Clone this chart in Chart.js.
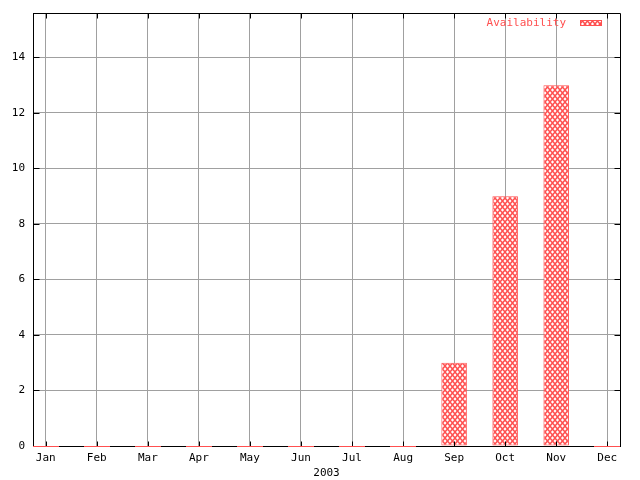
<!DOCTYPE html>
<html>
<head>
<meta charset="utf-8">
<script src="https://cdn.jsdelivr.net/npm/chart.js@4.4.1/dist/chart.umd.min.js"></script>
<style>
  html, body { margin: 0; padding: 0; background: #fff; }
  #wrap { width: 640px; height: 480px; }
</style>
</head>
<body>
<div id="wrap"><canvas id="chart" width="640" height="480"></canvas></div>
<script>
// chart data
const months = ['Jan', 'Feb', 'Mar', 'Apr', 'May', 'Jun', 'Jul', 'Aug', 'Sep', 'Oct', 'Nov', 'Dec'];
const availability = [0, 0, 0, 0, 0, 0, 0, 0, 3, 9, 13, 0];
const yTicks = [0, 2, 4, 6, 8, 10, 12, 14];
const seriesName = 'Availability';
const xTitle = '2003';

const RED = '#ff5050';
const GRID = '#a0a0a0';
const FONT = '"DejaVu Sans Mono", monospace';

// crosshatch fill like the gnuplot pattern
function makeHatch() {
  const c = document.createElement('canvas');
  c.width = 5;
  c.height = 6;
  const g = c.getContext('2d');
  g.fillStyle = '#fff';
  g.fillRect(0, 0, 5, 6);
  g.strokeStyle = RED;
  g.lineWidth = 1.5;
  g.beginPath();
  g.moveTo(0, 0); g.lineTo(5, 6);
  g.moveTo(5, 0); g.lineTo(0, 6);
  g.stroke();
  return g.createPattern(c, 'repeat');
}
const hatch = makeHatch();

// frame, inward ticks, zero bars and the key
const framePlugin = {
  id: 'frame',
  afterDatasetsDraw(chart) {
    const ctx = chart.ctx;
    const a = chart.chartArea;
    const xs = chart.scales.x;
    const ys = chart.scales.y;
    ctx.save();

    ctx.strokeStyle = '#000';
    ctx.lineWidth = 1;
    const L = Math.round(a.left) + 0.5, R = Math.round(a.right) + 0.5;
    const T = Math.round(a.top) + 0.5, B = Math.round(a.bottom) + 0.5;

    // key area is kept clear of grid lines
    ctx.fillStyle = '#fff';
    ctx.fillRect(a.right - 40, a.top + 1, 22, 15);

    ctx.beginPath();
    ctx.moveTo(L, T); ctx.lineTo(R, T); ctx.lineTo(R, B);
    ctx.stroke();

    ctx.beginPath();
    yTicks.forEach(v => {
      const py = Math.round(ys.getPixelForValue(v)) + 0.5;
      ctx.moveTo(L, py); ctx.lineTo(L + 6, py);
      ctx.moveTo(R, py); ctx.lineTo(R - 6, py);
    });
    months.forEach((m, i) => {
      const px = Math.round(xs.getPixelForValue(i)) + 0.5;
      ctx.moveTo(px, B); ctx.lineTo(px, B - 5);
      ctx.moveTo(px, T); ctx.lineTo(px, T + 5);
    });
    ctx.stroke();

    // zero-height bars show as a red line on the axis
    const half = xs.getPixelForValue(0.25) - xs.getPixelForValue(0);
    ctx.strokeStyle = RED;
    ctx.lineWidth = 1;
    availability.forEach((v, i) => {
      if (v !== 0) return;
      const px = Math.round(xs.getPixelForValue(i));
      const py = Math.round(ys.getPixelForValue(v)) + 0.5;
      ctx.beginPath();
      ctx.moveTo(px - Math.round(half), py);
      ctx.lineTo(px + Math.round(half), py);
      ctx.stroke();
    });

    // key
    ctx.font = '11px ' + FONT;
    ctx.fillStyle = RED;
    ctx.textAlign = 'right';
    ctx.textBaseline = 'middle';
    ctx.fillText(seriesName, a.right - 54, a.top + 10.5);
    ctx.fillStyle = hatch;
    ctx.fillRect(a.right - 40, a.top + 7, 21, 6);
    ctx.strokeStyle = RED;
    ctx.strokeRect(Math.round(a.right - 40) + 0.5, Math.round(a.top + 7) + 0.5, 21, 5);
    ctx.restore();
  }
};

new Chart(document.getElementById('chart'), {
  type: 'bar',
  data: {
    datasets: [{
      label: seriesName,
      data: availability.map((v, i) => ({ x: i, y: v })),
      backgroundColor: hatch,
      borderColor: RED,
      borderWidth: 1,
      borderSkipped: false,
      barPercentage: 0.5,
      categoryPercentage: 1
    }]
  },
  options: {
    responsive: false,
    animation: false,
    devicePixelRatio: 1,
    layout: { padding: { top: 13, right: 20, left: 0, bottom: 0 } },
    plugins: {
      legend: { display: false },
      tooltip: { enabled: false }
    },
    scales: {
      x: {
        type: 'linear',
        offset: false,
        min: -0.25,
        max: 11.25,
        afterBuildTicks: s => { s.ticks = months.map((m, i) => ({ value: i })); },
        afterFit: s => { s.height = 34; s.paddingLeft = 0; s.paddingRight = 0; },
        grid: { color: GRID, drawTicks: false, offset: false },
        border: { color: '#000' },
        ticks: {
          color: '#000',
          font: { family: FONT, size: 11 },
          padding: 6,
          maxRotation: 0,
          autoSkip: false,
          callback: v => months[v]
        },
        title: {
          display: true,
          text: xTitle,
          color: '#000',
          font: { family: FONT, size: 11 },
          padding: { top: 0, bottom: 0 }
        }
      },
      y: {
        min: 0,
        max: 15.6,
        afterBuildTicks: s => { s.ticks = yTicks.map(v => ({ value: v })); },
        afterFit: s => { s.width = 33; s.paddingTop = 0; s.paddingBottom = 0; },
        grid: { color: GRID, drawTicks: false },
        border: { color: '#000' },
        ticks: {
          color: '#000',
          font: { family: FONT, size: 11 },
          padding: 8
        }
      }
    }
  },
  plugins: [framePlugin]
});
</script>
</body>
</html>
